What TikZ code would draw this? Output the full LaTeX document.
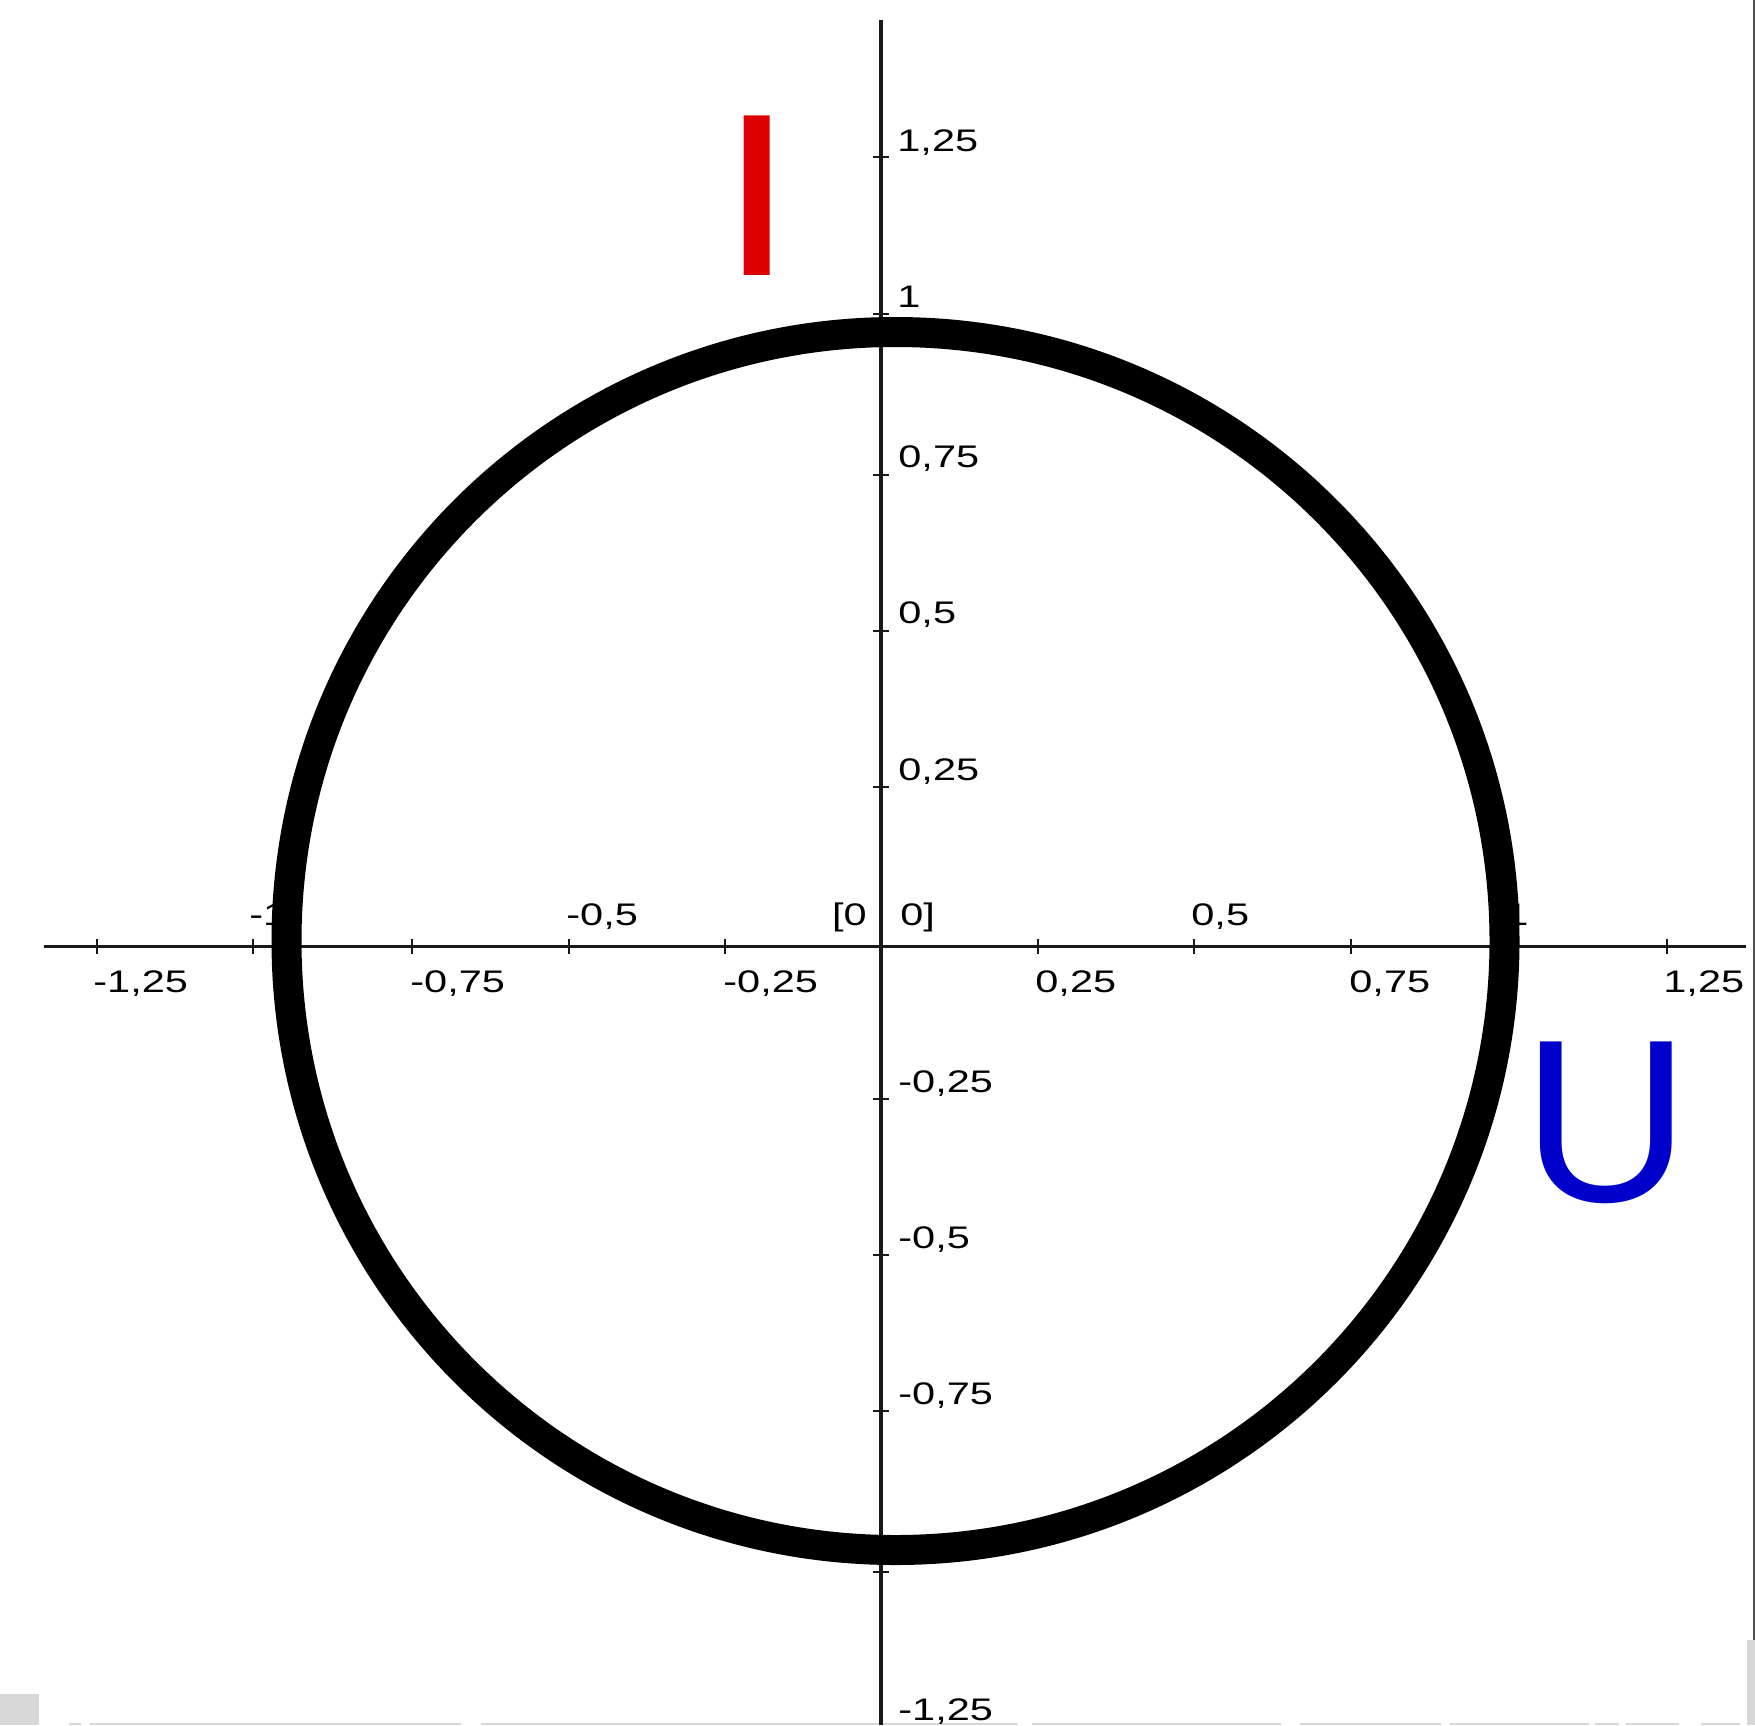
\documentclass[tikz,border=0pt]{standalone}
\usepackage{fontspec}
\setmainfont{Liberation Sans}
\newfontfamily\labfont[FakeStretch=1.33]{Liberation Sans}
\newfontfamily\ifont[FakeStretch=1.2]{Liberation Sans}
\definecolor{ired}{RGB}{220,0,0}
\definecolor{ublue}{RGB}{0,0,205}
\definecolor{artgray}{RGB}{215,215,215}
\begin{document}
\begin{tikzpicture}[x=0.5pt,y=-0.5pt,
  axis/.style={line width=1.6pt,black!90},
  tickmark/.style={line width=1.3pt,black!90},
  lab/.style={inner sep=0pt,anchor=base west,font=\labfont\fontsize{15.6}{18}\selectfont,text=black},
  labr/.style={lab,anchor=base east},
  ring/.style={line width=15pt,black},
  big/.style={inner sep=0pt,anchor=base,font=\fontsize{116}{124}\selectfont},
  artifact/.style={fill=artgray,draw=none}]
\useasboundingbox (0,0) rectangle (1755,1725);
\fill[white] (0,0) rectangle (1755,1725);
% screenshot edges
\draw[line width=1pt,black!70] (1753.5,0) -- (1753.5,1640);
\fill[artifact] (1747,1640) rectangle (1755,1725);
\fill[artifact] (0,1694) rectangle (39,1725);
\foreach \a/\b in {69/81,90/461,481/1018,1032/1281,1300/1441,1450/1589,1595/1619,1626/1679,1701/1740}
  \fill[artifact] (\a,1722.5) rectangle (\b,1725);
% axes
\coordinate (O) at (881,946.5);
\coordinate (xl) at (44,946.5);
\coordinate (xr) at (1746,946.5);
\coordinate (yt) at (881,20);
\coordinate (yb) at (881,1725);
\draw[axis] (xl) -- (xr);
\draw[axis] (yt) -- (yb);
\foreach \t in {97,253,412,569,725,1038,1194,1351,1507,1667}
  \draw[tickmark] (\t,939) -- (\t,954);
\foreach \t in {157,314,475,631,787,1099,1255,1411,1572}
  \draw[tickmark] (873,\t) -- (889,\t);
% x labels below
\node[lab] (xm125) at (93,992) {-1,25};
\node[lab] (xm075) at (410,992) {-0,75};
\node[lab] (xm025) at (723,992) {-0,25};
\node[lab] (xp025) at (1035,992) {0,25};
\node[lab] (xp075) at (1349,992) {0,75};
\node[lab] (xp125) at (1663,992) {1,25};
% x labels above
\node[lab] (xm1) at (249,925) {-1};
\node[lab] (xm05) at (566,925) {-0,5};
\node[lab] (xp05) at (1191,925) {0,5};
\node[lab] (xp1) at (1505,925) {1};
\node[labr] (zl) at (867,925) {[0};
\node[lab] (zr) at (900,925) {0]};
% y labels
\node[lab] (yp125) at (897,151) {1,25};
\node[lab] (yp1) at (897,307) {1};
\node[lab] (yp075) at (898,467) {0,75};
\node[lab] (yp05) at (898,623) {0,5};
\node[lab] (yp025) at (898,780) {0,25};
\node[lab] (ym025) at (898,1092) {-0,25};
\node[lab] (ym05) at (898,1248) {-0,5};
\node[lab] (ym075) at (898,1404) {-0,75};
\node[lab] (ym125) at (898,1720) {-1,25};
% circle
\draw[ring] (895.5,941) circle[radius=609];
% big letters
\node[big,font=\ifont\fontsize{116}{124}\selectfont,text=ired] (I) at (757.5,275) {I};
\node[big,text=ublue] (U) at (1606.5,1201) {U};
\end{tikzpicture}
\end{document}
